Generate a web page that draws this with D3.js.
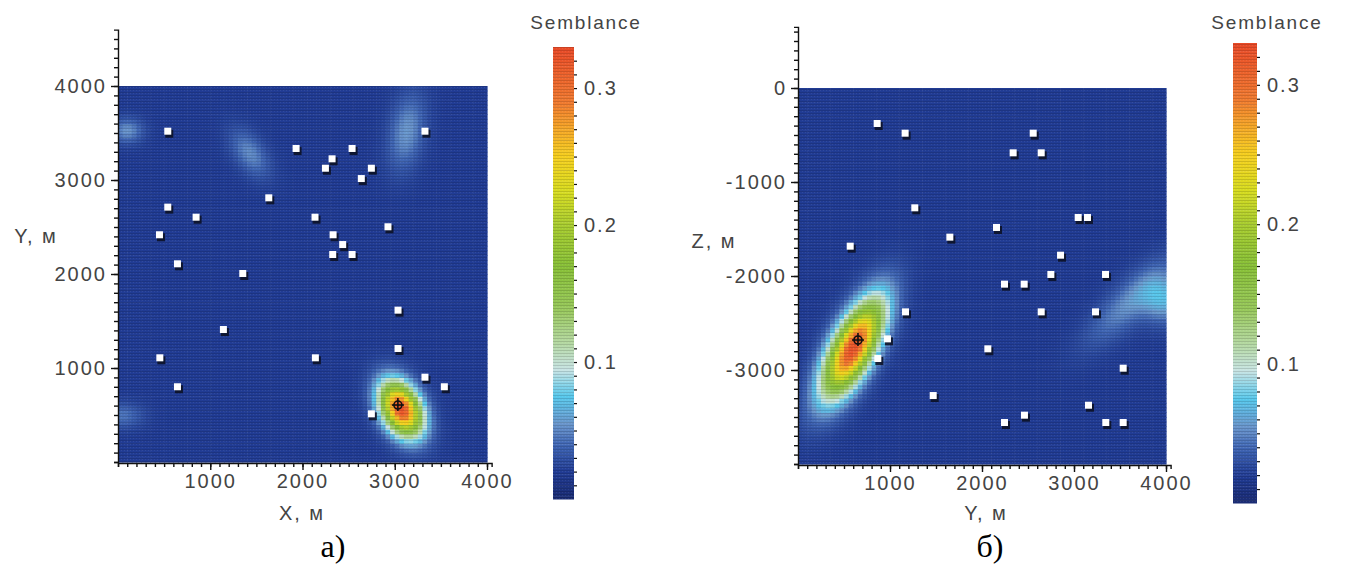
<!DOCTYPE html>
<html>
<head>
<meta charset="utf-8">
<script src="https://cdn.jsdelivr.net/npm/d3@7"></script>
<style>
body { margin: 0; background: #fff; }
svg text { font-family: "Liberation Sans", Arial, sans-serif; }
</style>
</head>
<body>
<script>
// receivers in plan view (X, Y), metres
var receiversA = [[545,3514],[3333,3514],[1936,3330],[2543,3330],[2326,3220],[2254,3120],[2752,3120],[2643,3010],
    [1640,2805],[545,2706],[852,2599],[2141,2599],[2932,2497],[455,2412],[2337,2412],[2441,2308],[2333,2202],
    [2543,2202],[650,2103],[1358,2000],[3041,1610],[1148,1404],[3041,1202],[459,1103],[2145,1103],[3333,897],
    [650,795],[3543,795],[2752,507]];
// receivers in section view (Y, Z), metres
var receiversB = [[866,-383],[1170,-486],[2562,-486],[2344,-695],[2649,-695],[1275,-1280],[3051,-1383],[3152,-1383],
    [2163,-1489],[1656,-1592],[573,-1688],[2859,-1784],[2754,-1989],[3348,-1989],[2250,-2092],[2464,-2092],
    [1174,-2387],[2649,-2387],[3239,-2387],[978,-2674],[2069,-2780],[873,-2883],[3540,-2986],[1475,-3277],
    [3163,-3380],[2467,-3486],[2250,-3564],[3351,-3564],[3540,-3564]];

// located source
var sourceA = [3034, 606];
var sourceB = [652, -2681];

// semblance anomalies: centre x, centre y, spread along, spread across, tilt (deg), peak
var anomaliesA = [[3070,570,210,138,-62,0.305],[100,3530,120,90,0,0.035],[1430,3290,200,110,-55,0.032],
    [3130,3520,280,130,80,0.036],[40,500,160,90,0,0.025]];
var anomaliesB = [[600,-2760,385,150,62,0.305],[3620,-2260,420,140,44,0.034],[3980,-2250,170,170,0,0.045]];
var semblanceBackground = 0.02;

// colour bar
var semblanceStops =  [0, 0.02, 0.04, 0.055, 0.075, 0.095, 0.115, 0.14, 0.17, 0.2, 0.225, 0.25, 0.27, 0.29, 0.33];
var semblanceColors = ['#1a2b72','#213c94','#4066b4','#6a96cc','#58c8ec','#c8e4e4','#b4d8a0','#98c85a',
    '#88c038','#a8cc30','#d8dc20','#f5d020','#f5a828','#f07a30','#e84a28'];
var semblanceTicks = [0.1, 0.2, 0.3];
var semblanceMax = 0.33;

var mapTicks = [1000, 2000, 3000, 4000];
var depthTicks = [-3000, -2000, -1000, 0];

var color = d3.scaleLinear().domain(semblanceStops).range(semblanceColors).interpolate(d3.interpolateRgb).clamp(true);

var svg = d3.select('body').append('svg')
    .attr('width', 1346)
    .attr('height', 570);

var defs = svg.append('defs');
var pat = defs.append('pattern')
    .attr('id', 'scan')
    .attr('width', 3).attr('height', 3)
    .attr('patternUnits', 'userSpaceOnUse');
pat.append('rect').attr('y', 2).attr('width', 3).attr('height', 1).attr('fill', '#000').attr('opacity', 0.13);
pat.append('rect').attr('x', 1).attr('width', 1).attr('height', 1).attr('fill', '#fff').attr('opacity', 0.07);

var SemblanceMap = function(config) {
    this.config = config;
    this.g = svg.append('g');
    this.setupScales();
    this.createHeatmap();
    this.createReceivers();
    this.createSource();
    this.createAxes();
    this.createColorbar();
    this.createLabels();
}

SemblanceMap.prototype.setupScales = function() {
    var c = this.config;
    this.x = d3.scaleLinear().domain(c.xDomain).range(c.xRange);
    this.y = d3.scaleLinear().domain(c.yDomain).range(c.yRange);
}

SemblanceMap.prototype.fieldAt = function(px, py) {
    var v = semblanceBackground;
    this.config.anomalies.forEach(function(a) {
        var t = a[4] * Math.PI / 180;
        var dx = px - a[0], dy = py - a[1];
        var u = dx * Math.cos(t) + dy * Math.sin(t);
        var w = -dx * Math.sin(t) + dy * Math.cos(t);
        v += a[5] * Math.exp(-0.5 * (u * u / (a[2] * a[2]) + w * w / (a[3] * a[3])));
    });
    return Math.min(v, semblanceMax);
}

SemblanceMap.prototype.createHeatmap = function() {
    var obj = this, c = this.config;
    var step = 50;
    var cells = [];
    for (var gx = c.xDomain[0]; gx < c.xDomain[1]; gx += step) {
        for (var gy = c.yDomain[0]; gy < c.yDomain[1]; gy += step) {
            cells.push({x0: gx, y0: gy, v: obj.fieldAt(gx + step / 2, gy + step / 2)});
        }
    }
    this.g.append('g').selectAll('rect')
        .data(cells)
        .enter().append('rect')
        .attr('x', function(d) { return obj.x(d.x0); })
        .attr('y', function(d) { return obj.y(d.y0 + step); })
        .attr('width', function(d) { return obj.x(d.x0 + step) - obj.x(d.x0) + 0.6; })
        .attr('height', function(d) { return obj.y(d.y0) - obj.y(d.y0 + step) + 0.6; })
        .attr('fill', function(d) { return color(d.v); });

    this.g.append('rect')
        .attr('x', c.xRange[0]).attr('y', c.yRange[1])
        .attr('width', c.xRange[1] - c.xRange[0])
        .attr('height', c.yRange[0] - c.yRange[1])
        .attr('fill', 'url(#scan)');
}

SemblanceMap.prototype.createReceivers = function() {
    var obj = this;
    var pts = this.g.append('g').selectAll('g')
        .data(this.config.receivers)
        .enter().append('g')
        .attr('transform', function(d) { return 'translate(' + obj.x(d[0]) + ',' + obj.y(d[1]) + ')'; });
    pts.append('rect')
        .attr('x', -3).attr('y', -2).attr('width', 8).attr('height', 8)
        .attr('fill', '#0a0f20').attr('opacity', 0.85);
    pts.append('rect')
        .attr('x', -4).attr('y', -4).attr('width', 7).attr('height', 7)
        .attr('fill', '#fff');
}

SemblanceMap.prototype.createSource = function() {
    var s = this.config.source;
    var sg = this.g.append('g')
        .attr('transform', 'translate(' + this.x(s[0]) + ',' + this.y(s[1]) + ')')
        .attr('stroke', '#111')
        .attr('fill', 'none');
    sg.append('circle').attr('r', 4).attr('stroke-width', 1.6);
    sg.append('line').attr('x1', -6).attr('x2', 6).attr('stroke-width', 1.6);
    sg.append('line').attr('y1', -7).attr('y2', 6).attr('stroke-width', 1.6);
}

SemblanceMap.prototype.createAxes = function() {
    var c = this.config;
    var xa = this.x.copy().domain(c.xAxisDomain).range(c.xAxisDomain.map(this.x));
    var ya = this.y.copy().domain(c.yAxisDomain).range(c.yAxisDomain.map(this.y));
    var fmt = function(d) { return String(d); };

    var bottom = this.g.append('g').attr('class', 'axis')
        .attr('transform', 'translate(0,' + (c.yRange[0] + 1) + ')');
    bottom.call(d3.axisBottom(xa).tickValues(d3.range(c.xAxisDomain[0], c.xAxisDomain[1], 100)).tickSize(4).tickFormat(''));
    bottom.append('g').call(d3.axisBottom(xa).tickValues(mapTicks).tickSize(7).tickPadding(4).tickFormat(fmt))
        .select('.domain').remove();

    var left = this.g.append('g').attr('class', 'axis')
        .attr('transform', 'translate(' + c.xRange[0] + ',0)');
    left.call(d3.axisLeft(ya).tickValues(d3.range(c.yAxisDomain[0], c.yAxisDomain[1], 100)).tickSize(4).tickFormat(''));
    left.append('g').call(d3.axisLeft(ya).tickValues(c.yTicks).tickSize(7).tickPadding(4).tickFormat(fmt))
        .select('.domain').remove();

    this.g.selectAll('.axis path, .axis line').attr('stroke', '#111').attr('stroke-width', 1.4);
    this.g.selectAll('.axis text')
        .attr('font-size', 20)
        .attr('letter-spacing', 2)
        .attr('fill', '#444');
}

SemblanceMap.prototype.createColorbar = function() {
    var c = this.config.bar;
    var s = d3.scaleLinear().domain([0, semblanceMax]).range([c.bottom, c.top]);
    var levels = d3.range(0, semblanceMax, 0.002);
    var bar = this.g.append('g');
    bar.selectAll('rect')
        .data(levels)
        .enter().append('rect')
        .attr('x', c.x)
        .attr('y', function(d) { return s(d + 0.002); })
        .attr('width', c.width)
        .attr('height', function(d) { return s(d) - s(d + 0.002) + 0.5; })
        .attr('fill', function(d) { return color(d + 0.001); });
    bar.append('rect')
        .attr('x', c.x).attr('y', c.top)
        .attr('width', c.width).attr('height', c.bottom - c.top)
        .attr('fill', 'url(#scan)');

    var ax = bar.append('g').attr('transform', 'translate(' + (c.x + c.width) + ',0)');
    ax.call(d3.axisRight(s).tickValues(d3.range(0.01, semblanceMax, 0.01)).tickSize(3).tickFormat(''));
    ax.select('.domain').remove();
    ax.selectAll('line').attr('stroke', '#111').attr('stroke-width', 1.2);
    ax.append('g').call(d3.axisRight(s).tickValues(semblanceTicks).tickSize(0).tickPadding(10).tickFormat(d3.format('.1f')))
        .call(function(g) { g.select('.domain').remove(); })
        .selectAll('text')
        .attr('font-size', 20)
        .attr('letter-spacing', 2)
        .attr('fill', '#444');

    bar.append('text')
        .attr('x', c.titleX).attr('y', 29)
        .attr('text-anchor', 'middle')
        .attr('font-size', 19)
        .attr('letter-spacing', 1.8)
        .attr('fill', '#444')
        .text('Semblance');
}

SemblanceMap.prototype.createLabels = function() {
    var c = this.config;
    this.g.append('text')
        .attr('x', c.yLabel[0]).attr('y', c.yLabel[1])
        .attr('text-anchor', 'middle').attr('font-size', 20).attr('letter-spacing', 2).attr('fill', '#444')
        .text(c.yTitle);
    this.g.append('text')
        .attr('x', c.xLabel[0]).attr('y', c.xLabel[1])
        .attr('text-anchor', 'middle').attr('font-size', 20).attr('letter-spacing', 2).attr('fill', '#444')
        .text(c.xTitle);
    this.g.append('text')
        .attr('x', c.caption[0]).attr('y', c.caption[1])
        .attr('text-anchor', 'middle')
        .attr('font-size', 32)
        .style('font-family', '"Liberation Serif", "Times New Roman", serif')
        .attr('fill', '#000')
        .text(c.captionText);
}

var panelA = new SemblanceMap({
    xDomain: [0, 4000], yDomain: [0, 4000],
    xRange: [118, 487], yRange: [462, 86],
    xAxisDomain: [0, 4050], yAxisDomain: [0, 4600],
    yTicks: mapTicks,
    anomalies: anomaliesA,
    receivers: receiversA,
    source: sourceA,
    bar: {x: 553, width: 21, top: 47, bottom: 499, titleX: 586},
    xTitle: 'X, м', xLabel: [302, 520],
    yTitle: 'Y, м', yLabel: [36, 243],
    captionText: 'а)', caption: [333, 557]
});

var panelB = new SemblanceMap({
    xDomain: [0, 4000], yDomain: [-4000, 0],
    xRange: [798, 1166], yRange: [464, 88],
    xAxisDomain: [0, 4050], yAxisDomain: [-4000, 650],
    yTicks: depthTicks,
    anomalies: anomaliesB,
    receivers: receiversB,
    source: sourceB,
    bar: {x: 1233, width: 24, top: 43, bottom: 503, titleX: 1267},
    xTitle: 'Y, м', xLabel: [986, 520],
    yTitle: 'Z, м', yLabel: [714, 248],
    captionText: 'б)', caption: [990, 557]
});
</script>
</body>
</html>
